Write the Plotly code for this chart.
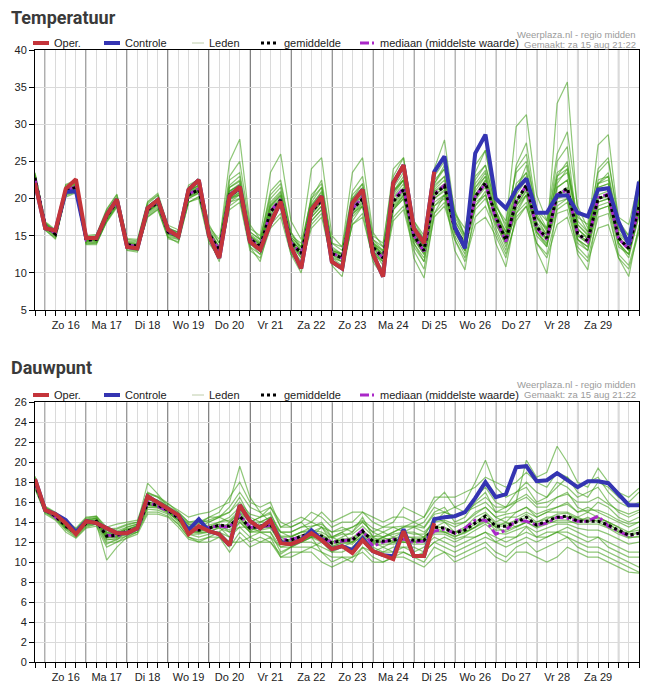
import pandas as pd
import plotly.graph_objects as go

# ---------------- data ----------------
start = "2020-08-15 18:00"
end = "2020-08-30 12:00"
times = pd.date_range(start, periods=60, freq="6h")

day_labels = ["Zo 16", "Ma 17", "Di 18", "Wo 19", "Do 20", "Vr 21", "Za 22",
              "Zo 23", "Ma 24", "Di 25", "Wo 26", "Do 27", "Vr 28", "Za 29"]
label_times = pd.date_range("2020-08-16 12:00", periods=14, freq="D")
midnights = pd.date_range("2020-08-16 00:00", periods=15, freq="D")

# Temperatuur
oper_temp = [22.1, 16.0, 15.7, 21.3, 22.6, 14.7, 14.7, 17.8, 19.9, 13.5,
             13.3, 18.7, 19.8, 15.8, 14.9, 21.2, 22.5, 15.0, 12.0, 20.3,
             21.6, 14.2, 13.1, 16.7, 19.6, 13.5, 10.6, 18.5, 20.3, 11.5,
             10.6, 19.4, 21.2, 12.6, 9.5, 22.1, 24.5, 16.0, 14.0, 23.6]
controle_temp = [22.1, 16.0, 15.7, 20.9, 21.0, 14.7, 14.7, 17.8, 19.9, 13.5,
                 13.3, 18.7, 19.8, 15.8, 14.9, 21.2, 22.5, 15.0, 12.0, 20.3,
                 21.6, 14.2, 13.1, 16.7, 19.6, 13.5, 10.6, 18.5, 20.3, 11.5,
                 10.6, 19.4, 21.2, 12.6, 9.5, 22.1, 24.5, 16.0, 14.0, 23.6,
                 25.7, 16.2, 13.3, 26.1, 28.6, 20.0, 18.7, 21.2, 22.7, 18.1,
                 18.1, 20.4, 20.4, 18.1, 17.6, 21.2, 21.4, 16.9, 13.8, 22.3]
gemiddelde_temp = [22.8, 16.3, 15.2, 21.0, 21.5, 14.4, 14.5, 17.6, 19.6, 13.8,
                   13.6, 18.5, 19.5, 15.5, 15.0, 20.5, 21.2, 15.3, 13.0, 20.5,
                   21.2, 14.6, 13.5, 18.2, 19.8, 14.2, 12.6, 18.2, 19.8, 12.6,
                   12.0, 18.5, 20.0, 13.5, 12.0, 19.6, 21.2, 15.0, 13.0, 20.5,
                   21.7, 16.0, 13.8, 20.3, 22.1, 17.6, 14.4, 19.6, 21.8, 16.2,
                   14.7, 20.5, 21.4, 15.3, 14.3, 20.0, 20.5, 14.7, 13.3, 18.9]
mediaan_temp = [22.7, 16.3, 15.3, 21.1, 21.6, 14.4, 14.5, 17.7, 19.6, 13.8,
                13.5, 18.5, 19.6, 15.5, 15.0, 20.6, 21.3, 15.3, 13.0, 20.6,
                21.3, 14.6, 13.4, 18.3, 19.9, 14.1, 12.6, 18.3, 20.0, 12.7,
                12.0, 18.6, 20.2, 13.4, 12.0, 19.8, 21.4, 15.0, 12.9, 20.6,
                21.8, 15.8, 13.6, 20.3, 22.0, 17.3, 14.2, 19.7, 21.8, 16.0,
                14.5, 20.5, 21.2, 15.2, 14.2, 20.1, 20.6, 14.6, 13.2, 18.8]
leden_temp_txt = [
    "23.2 | 16.8 15.6 21.8 22.3 | 14.9 14.8 18.3 20.2 | 14.2 14.0 19.3 20.4 | 16.1 15.4 21.5 22.0 | 16.0 14.0 25.0 28.0 | 16.5 14.5 21.0 22.5 | 15.5 13.0 20.5 22.0 | 13.5 12.5 20.0 21.5 | 14.5 13.0 21.5 23.5 | 17.0 14.5 23.0 25.0 | 18.5 15.0 23.5 26.5 | 19.5 16.0 24.0 26.0 | 18.0 15.5 23.0 24.0 | 16.5 15.0 22.5 23.0 | 16.0 14.5 21.0",
    "22.3 | 15.9 14.8 20.4 20.9 | 14.0 14.0 16.9 19.0 | 13.3 13.0 17.6 18.6 | 14.8 14.5 19.5 20.3 | 14.5 12.0 19.5 20.0 | 13.5 12.5 16.5 18.0 | 13.0 11.0 16.5 18.0 | 11.5 10.5 16.5 18.0 | 12.0 10.5 17.5 19.0 | 13.5 11.5 18.0 19.5 | 14.5 12.0 17.5 19.0 | 15.5 12.5 17.0 19.0 | 14.0 12.5 18.0 18.5 | 13.5 12.0 17.5 18.0 | 12.5 11.0 16.0",
    "22.9 | 16.5 15.4 21.3 21.8 | 14.6 14.4 17.9 19.9 | 13.9 13.5 18.9 19.9 | 15.8 15.2 21.0 21.8 | 15.5 13.5 21.0 22.0 | 15.0 14.0 19.0 20.5 | 14.5 13.0 19.0 21.0 | 13.0 12.5 19.5 21.0 | 14.0 12.5 20.5 22.5 | 16.0 14.0 22.0 24.0 | 17.5 15.0 22.5 24.5 | 19.0 16.5 29.7 31.3 | 20.5 17.0 26.0 29.0 | 19.0 16.0 22.0 23.5 | 16.5 14.0 19.5",
    "22.6 | 16.2 15.0 20.8 21.3 | 14.3 14.6 17.4 19.4 | 13.6 13.8 18.2 19.2 | 15.3 14.8 20.2 21.0 | 15.0 12.8 20.0 20.8 | 14.3 13.2 18.5 20.0 | 14.0 12.5 18.0 19.5 | 12.5 11.5 18.0 19.5 | 13.0 11.5 19.0 20.5 | 14.5 12.5 20.0 21.0 | 15.5 13.0 20.0 22.0 | 17.0 14.0 21.0 24.5 | 17.5 15.0 32.8 35.7 | 18.0 15.5 21.5 22.0 | 15.0 13.0 18.0",
    "23.4 | 16.6 15.5 21.5 22.0 | 14.7 14.9 18.0 20.0 | 14.3 14.2 19.0 20.0 | 15.9 15.5 21.0 21.8 | 15.8 13.5 21.5 22.5 | 15.0 14.0 19.5 21.0 | 14.8 13.5 19.5 21.5 | 13.0 12.5 20.0 22.0 | 14.0 13.0 21.0 23.0 | 15.5 13.5 24.0 27.9 | 18.0 15.0 24.5 26.5 | 18.5 15.0 21.0 23.0 | 16.5 15.0 22.0 24.0 | 17.0 15.5 27.2 28.6 | 17.0 15.0 21.0",
    "22.0 | 15.8 14.5 20.5 21.0 | 13.8 13.8 17.0 19.0 | 13.0 12.8 17.8 18.8 | 14.8 14.0 19.5 20.2 | 14.5 11.5 19.0 20.0 | 13.5 11.5 17.0 19.0 | 12.5 10.0 17.5 19.0 | 11.0 9.5 17.0 19.0 | 11.5 9.5 18.5 20.5 | 12.0 9.3 18.0 20.5 | 13.0 10.4 19.0 21.0 | 14.0 10.8 18.0 20.5 | 13.0 9.9 19.0 20.0 | 12.5 10.4 18.5 19.0 | 12.0 9.5 16.5",
    "22.8 | 16.3 15.3 21.2 21.6 | 14.5 14.3 17.5 19.5 | 13.7 13.5 18.6 19.6 | 15.6 15.1 20.6 21.4 | 15.2 13.2 20.8 21.5 | 14.8 13.8 18.5 20.0 | 14.0 12.5 18.5 20.0 | 12.8 12.2 18.8 20.5 | 13.8 12.3 20.0 21.5 | 15.5 13.5 21.0 22.0 | 16.5 14.0 20.5 22.5 | 17.5 14.5 19.5 21.5 | 16.0 14.5 20.5 21.0 | 15.0 14.0 20.5 21.0 | 14.5 13.5 19.5",
    "23.0 | 16.4 15.1 21.0 21.9 | 14.2 14.6 17.8 19.8 | 14.0 13.8 18.8 19.8 | 15.2 14.7 20.8 21.6 | 15.0 12.5 22.5 23.5 | 15.5 14.5 20.5 22.0 | 15.5 13.5 20.0 22.5 | 14.0 13.0 21.0 23.0 | 15.0 14.0 23.0 25.5 | 17.0 15.0 21.0 21.5 | 15.5 13.5 18.5 20.0 | 16.5 14.0 18.0 19.5 | 15.0 13.5 21.5 22.5 | 14.5 13.5 21.5 22.0 | 14.0 12.5 20.0",
    "22.5 | 16.0 15.0 20.7 21.1 | 14.6 14.2 17.2 19.3 | 13.5 13.3 18.0 19.0 | 15.3 15.0 20.0 20.7 | 15.5 13.0 19.5 20.5 | 14.0 12.5 17.5 19.0 | 14.0 12.0 17.0 18.5 | 12.0 11.0 18.0 19.0 | 13.0 11.0 18.5 20.0 | 14.0 12.0 19.0 20.0 | 15.0 12.5 20.5 22.5 | 18.0 15.5 22.0 23.5 | 17.5 16.0 23.0 25.0 | 16.0 14.5 24.0 25.5 | 16.5 15.0 22.0",
    "23.1 | 16.7 15.6 21.6 22.1 | 14.8 15.0 18.5 20.5 | 14.5 14.3 19.5 20.5 | 16.0 15.5 21.5 22.5 | 16.5 14.0 23.0 25.0 | 16.0 15.0 23.5 26.0 | 17.0 14.5 24.0 25.5 | 15.0 13.5 23.5 25.5 | 15.5 13.5 24.0 25.5 | 16.0 13.5 21.5 23.0 | 16.0 13.0 19.5 20.5 | 16.0 13.0 19.0 21.0 | 15.5 13.5 20.0 20.5 | 14.5 13.0 19.5 20.0 | 14.0 12.0 18.0",
    "22.4 | 16.1 15.2 20.9 21.4 | 14.1 14.1 17.1 19.1 | 13.4 13.2 18.3 19.3 | 15.0 14.6 20.0 20.8 | 14.8 12.5 20.0 20.5 | 14.2 13.0 17.5 19.0 | 13.5 11.5 17.0 18.5 | 12.0 11.5 17.5 19.0 | 12.5 11.5 18.5 20.0 | 14.0 11.5 19.0 20.5 | 16.0 13.0 21.5 23.5 | 18.0 14.5 19.0 20.5 | 15.5 14.0 18.5 19.5 | 14.0 13.0 18.5 19.0 | 13.5 12.5 17.5",
    "23.5 | 16.9 15.8 21.9 22.5 | 15.0 15.2 18.6 20.6 | 14.6 14.5 19.6 20.7 | 16.4 15.8 21.8 22.6 | 16.2 14.5 21.8 23.0 | 15.5 14.5 20.0 21.5 | 15.0 14.0 20.0 21.5 | 14.0 13.5 20.5 22.0 | 14.5 13.5 21.0 22.5 | 16.5 14.5 22.5 24.0 | 18.0 16.0 23.0 24.5 | 19.0 17.0 23.5 25.0 | 18.5 17.0 23.5 24.5 | 17.5 16.5 23.5 25.0 | 17.5 16.5 22.5",
    "22.2 | 15.7 14.7 20.2 20.8 | 13.9 14.0 16.8 18.8 | 13.1 13.0 17.5 18.5 | 14.6 14.2 19.5 20.0 | 14.0 12.0 18.5 19.5 | 13.0 12.0 16.0 17.5 | 12.5 11.0 16.0 17.5 | 11.5 10.5 16.5 17.5 | 12.0 10.0 17.0 18.5 | 13.0 10.5 17.5 19.0 | 14.5 11.5 16.5 17.5 | 15.0 12.0 17.5 19.0 | 14.0 12.0 16.5 17.5 | 13.0 11.5 16.0 16.5 | 12.0 10.5 15.5",
    "22.7 | 16.4 15.3 21.4 21.7 | 14.4 14.5 17.7 19.7 | 13.8 13.7 18.5 19.5 | 15.5 15.1 20.6 21.2 | 15.4 13.2 21.0 21.8 | 14.8 13.8 19.0 20.5 | 14.5 13.0 19.0 20.5 | 13.0 12.5 19.5 21.0 | 14.0 12.5 21.0 22.5 | 15.5 13.5 22.0 24.5 | 17.0 14.5 21.5 23.0 | 17.5 15.0 24.5 27.5 | 18.5 16.0 25.0 27.0 | 16.0 14.5 22.0 23.0 | 15.5 14.0 20.0",
    "22.6 | 16.2 15.1 20.8 21.3 | 14.3 14.4 17.4 19.4 | 13.7 13.5 18.3 19.3 | 15.3 14.8 20.3 21.0 | 15.1 12.8 20.2 21.0 | 14.4 13.3 17.8 19.5 | 14.0 12.3 17.8 19.5 | 12.4 11.8 18.2 19.7 | 13.3 11.8 19.2 20.8 | 14.8 12.8 20.0 21.2 | 15.8 13.5 19.8 21.5 | 17.2 14.0 19.0 21.2 | 16.0 14.3 20.0 20.8 | 15.0 14.0 19.5 20.0 | 14.5 13.0 18.5",
    "23.0 | 16.5 15.4 21.2 21.8 | 14.5 14.7 17.9 19.9 | 14.0 13.8 18.8 19.8 | 15.7 15.2 20.8 21.5 | 15.5 13.3 21.0 21.8 | 14.9 13.8 18.8 20.3 | 14.5 13.0 18.6 20.3 | 12.9 12.3 19.0 20.5 | 13.8 12.3 20.2 22.0 | 15.3 13.2 21.2 22.5 | 16.3 14.2 21.0 23.0 | 18.0 14.8 20.5 22.5 | 16.8 15.2 21.5 22.5 | 15.8 14.8 21.0 21.5 | 15.2 13.8 19.8",
    "22.9 | 16.3 15.2 21.0 21.5 | 14.6 14.4 17.6 19.6 | 13.9 13.6 18.5 19.4 | 15.4 15.0 20.5 21.3 | 15.3 13.0 20.5 21.3 | 14.5 13.5 18.0 19.6 | 14.2 12.6 18.0 19.6 | 12.6 12.0 18.4 20.0 | 13.5 12.0 19.5 21.0 | 15.0 13.0 20.5 21.5 | 16.0 13.8 20.0 21.8 | 17.5 14.5 19.5 21.5 | 16.2 14.6 20.5 21.2 | 15.2 14.2 20.0 20.3 | 14.7 13.2 18.7",
    "22.5 | 16.1 15.0 20.8 21.2 | 14.2 14.3 17.3 19.3 | 13.6 13.4 18.2 19.2 | 15.2 14.8 20.2 20.8 | 15.0 12.6 19.8 20.6 | 14.2 13.0 17.6 19.2 | 13.8 12.0 17.5 19.0 | 12.2 11.5 17.8 19.3 | 13.0 11.5 18.8 20.3 | 14.5 12.5 19.5 20.5 | 15.5 13.0 19.0 20.5 | 16.8 13.5 18.5 20.5 | 15.5 13.8 19.5 20.0 | 14.5 13.5 19.0 19.5 | 14.0 12.5 18.0",
    "23.2 | 16.6 15.5 21.4 22.0 | 14.7 14.8 18.0 20.0 | 14.1 13.9 19.0 20.0 | 15.8 15.3 21.0 21.8 | 15.6 13.5 21.5 22.3 | 15.2 14.2 19.2 20.8 | 14.8 13.4 19.2 20.8 | 13.2 12.6 19.5 21.0 | 14.2 12.8 20.8 22.5 | 15.8 13.8 21.8 23.0 | 17.0 14.8 22.0 23.8 | 18.5 15.5 21.5 23.5 | 17.5 15.8 22.5 23.5 | 16.5 15.2 22.0 22.5 | 15.8 14.5 20.5",
    "22.7 | 16.2 15.2 20.9 21.4 | 14.4 14.5 17.5 19.5 | 13.8 13.7 18.4 19.4 | 15.5 15.0 20.4 21.0 | 15.2 13.0 20.0 20.8 | 14.6 13.5 18.2 19.8 | 14.2 12.6 18.2 19.8 | 12.6 11.9 18.5 20.0 | 13.5 11.9 19.6 21.2 | 15.0 12.8 20.3 21.6 | 16.0 13.6 20.2 22.0 | 17.6 14.2 19.6 21.8 | 16.2 14.6 20.6 21.5 | 15.3 14.2 20.0 20.5 | 14.8 13.2 18.9",
]

# Dauwpunt
oper_dauw = [18.3, 15.2, 14.8, 13.9, 12.8, 14.1, 13.9, 13.4, 12.9, 12.9,
             13.4, 16.6, 16.0, 15.4, 14.7, 12.8, 13.6, 13.1, 12.8, 11.7,
             15.7, 14.1, 13.4, 14.2, 11.9, 11.8, 12.2, 12.9, 12.2, 11.3,
             11.6, 10.9, 12.2, 11.1, 10.7, 10.3, 13.1, 10.6, 10.6, 13.9]
controle_dauw = [18.3, 15.2, 14.8, 14.2, 13.0, 14.1, 13.9, 13.4, 12.9, 12.9,
                 13.4, 16.6, 16.0, 15.4, 14.7, 13.2, 14.3, 13.1, 12.8, 11.7,
                 15.7, 14.1, 13.4, 14.2, 12.0, 11.8, 12.2, 13.2, 12.2, 11.3,
                 11.6, 11.2, 12.4, 11.1, 10.7, 10.6, 13.3, 10.6, 10.6, 14.3,
                 14.5, 14.6, 15.0, 16.4, 18.0, 16.5, 16.8, 19.5, 19.6, 18.1,
                 18.2, 18.9, 18.2, 17.5, 18.1, 18.1, 17.9, 16.8, 15.7, 15.7]
gemiddelde_dauw = [17.8, 15.2, 14.6, 13.6, 12.9, 13.9, 14.1, 12.6, 12.7, 13.1,
                   13.4, 15.9, 15.7, 15.2, 14.4, 13.2, 13.2, 13.4, 13.7, 13.6,
                   14.6, 13.4, 13.6, 13.8, 12.1, 12.2, 12.6, 12.9, 12.6, 11.9,
                   12.2, 12.2, 13.1, 12.1, 12.1, 12.2, 12.4, 12.2, 12.2, 13.5,
                   13.4, 12.9, 13.2, 13.9, 14.6, 13.6, 13.6, 14.0, 14.5, 13.7,
                   14.1, 14.5, 14.6, 14.1, 14.1, 14.1, 13.7, 13.2, 12.7, 12.9]
mediaan_dauw = [17.9, 15.3, 14.5, 13.7, 12.9, 14.0, 14.0, 12.7, 12.6, 13.0,
                13.3, 16.0, 15.6, 15.1, 14.5, 13.1, 13.3, 13.5, 13.6, 13.5,
                14.7, 13.5, 13.5, 13.7, 12.2, 12.3, 12.5, 13.0, 12.4, 12.0,
                12.1, 12.3, 13.2, 11.6, 12.0, 12.3, 12.3, 12.0, 12.1, 13.1,
                13.3, 12.9, 13.4, 14.2, 14.2, 12.8, 13.2, 14.2, 14.1, 13.7,
                13.9, 14.5, 14.4, 14.1, 14.1, 14.6, 13.6, 13.1, 12.6, 12.9]
leden_dauw_txt = [
    "18.5 | 15.6 15.0 14.2 13.4 | 14.5 14.6 13.5 13.8 | 14.0 14.2 17.0 16.5 | 15.8 15.2 14.5 14.8 | 15.0 15.5 16.0 19.6 | 16.5 15.0 15.5 14.0 | 13.5 14.0 15.0 14.5 | 13.5 14.0 14.0 15.0 | 14.0 13.5 14.0 15.5 | 15.0 14.5 16.0 17.0 | 15.5 16.0 18.0 20.2 | 17.5 16.5 17.0 17.5 | 16.0 16.5 18.0 17.5 | 16.5 17.0 17.5 16.0 | 15.0 14.5 15.0",
    "17.3 | 14.9 14.3 13.2 12.5 | 13.5 13.8 10.2 11.5 | 12.5 13.0 15.0 15.0 | 14.6 13.8 12.5 12.0 | 12.5 12.5 11.5 13.0 | 12.0 12.5 12.0 10.5 | 11.0 11.0 11.5 11.0 | 10.5 10.5 10.0 11.5 | 10.5 10.0 10.5 11.0 | 10.5 10.0 11.5 11.0 | 10.5 11.0 11.5 12.0 | 11.0 10.5 11.5 12.0 | 11.0 11.5 12.0 12.5 | 11.5 11.0 11.0 10.5 | 10.0 9.5 9.0",
    "18.0 | 15.4 14.8 13.9 13.2 | 14.2 14.4 13.0 12.8 | 13.5 13.8 17.9 16.8 | 15.5 14.8 13.8 13.5 | 14.0 14.5 15.0 16.5 | 14.5 14.0 14.5 13.0 | 12.5 13.0 13.5 14.0 | 12.5 13.0 13.5 14.0 | 13.0 12.5 13.0 13.5 | 14.0 13.5 15.0 15.5 | 14.0 14.5 16.0 17.0 | 15.0 15.0 16.0 20.2 | 18.5 19.0 21.6 20.0 | 18.0 17.5 19.4 18.0 | 17.0 16.5 17.4",
    "17.6 | 15.0 14.4 13.4 12.8 | 13.8 14.0 12.2 12.4 | 12.8 13.0 15.5 15.5 | 15.0 14.2 12.8 12.8 | 13.0 13.5 12.5 13.5 | 12.5 13.0 13.0 11.0 | 11.5 12.0 12.0 11.5 | 11.0 11.5 11.0 12.0 | 11.0 11.0 11.0 11.5 | 11.0 11.5 12.5 12.0 | 11.5 12.0 12.5 13.0 | 12.0 12.5 12.5 13.0 | 12.5 13.0 13.0 13.5 | 13.0 12.5 12.5 12.0 | 11.5 11.0 11.0",
    "18.2 | 15.3 14.7 13.7 13.0 | 14.0 14.3 12.8 13.0 | 13.3 13.6 16.2 16.0 | 15.3 14.5 13.5 13.5 | 13.5 14.0 14.5 15.5 | 14.0 14.5 15.0 12.5 | 12.5 13.0 13.0 13.5 | 12.0 12.5 13.0 14.5 | 12.5 13.0 12.5 13.0 | 13.0 12.5 14.5 14.0 | 13.5 14.0 15.0 15.5 | 14.5 14.0 15.0 15.5 | 14.5 15.0 15.5 16.0 | 15.0 15.5 15.0 14.5 | 14.0 13.5 14.0",
    "17.7 | 15.1 14.5 13.5 12.7 | 13.7 13.9 12.0 12.0 | 12.7 13.2 15.7 15.5 | 15.0 14.0 12.8 12.5 | 12.8 13.0 12.5 14.0 | 13.0 13.0 12.5 11.5 | 11.5 12.0 12.5 11.0 | 10.0 10.5 10.5 11.5 | 11.0 11.5 11.0 11.0 | 10.5 11.0 12.0 12.5 | 12.0 12.5 12.5 13.0 | 12.5 12.0 12.5 13.5 | 12.5 12.5 13.0 13.0 | 12.5 12.0 12.5 11.5 | 11.0 10.5 10.5",
    "18.3 | 15.5 14.9 14.0 13.2 | 14.3 14.5 13.2 13.3 | 13.7 14.0 16.5 16.2 | 15.6 15.0 14.0 14.2 | 14.0 14.5 15.5 17.0 | 15.5 15.0 14.0 13.0 | 13.0 13.5 14.0 13.5 | 13.0 13.5 13.0 14.0 | 13.0 13.5 13.5 13.0 | 13.5 14.0 15.5 15.0 | 14.5 15.0 16.5 17.5 | 16.0 15.5 16.0 16.5 | 15.5 15.5 16.5 17.0 | 15.5 15.0 16.0 15.5 | 14.5 14.0 14.5",
    "17.4 | 14.8 14.2 13.0 12.4 | 13.4 13.6 11.5 12.0 | 12.4 12.8 14.8 14.8 | 14.5 13.5 12.3 12.0 | 12.0 12.5 11.0 12.5 | 11.5 12.0 12.5 10.5 | 10.5 11.0 11.0 10.0 | 9.5 10.0 10.5 11.0 | 10.0 10.0 10.5 10.5 | 10.0 9.5 10.5 11.0 | 10.0 10.5 11.0 11.5 | 10.5 10.0 11.0 11.0 | 10.5 10.0 10.5 11.5 | 11.0 10.5 10.5 10.0 | 9.5 9.0 8.9",
    "18.0 | 15.2 14.6 13.6 12.9 | 13.9 14.2 12.5 12.5 | 13.0 13.4 16.0 15.8 | 15.2 14.4 13.0 13.0 | 13.5 13.5 13.5 14.5 | 13.0 14.0 14.5 12.0 | 12.0 12.5 12.5 13.5 | 12.5 12.0 12.5 13.0 | 12.5 12.0 12.5 12.0 | 12.0 12.5 13.5 13.0 | 13.0 13.0 13.5 14.0 | 13.5 14.0 13.5 14.0 | 14.0 14.5 14.5 14.5 | 14.5 14.0 14.5 14.0 | 13.5 12.5 12.5",
    "18.1 | 15.3 14.7 13.8 13.1 | 14.1 14.4 12.3 12.2 | 13.2 13.7 16.8 16.5 | 15.4 14.7 13.6 13.8 | 14.5 14.5 14.0 15.0 | 14.0 14.5 15.5 13.5 | 13.5 14.0 13.0 12.5 | 12.5 13.0 12.0 13.0 | 12.0 12.5 13.0 13.5 | 13.5 13.0 14.0 15.0 | 15.5 15.0 15.5 16.0 | 15.0 15.5 17.0 18.0 | 17.0 16.5 17.5 18.5 | 17.0 16.5 18.0 17.5 | 16.5 16.0 17.0",
    "17.5 | 15.0 14.4 13.3 12.6 | 13.6 13.8 11.8 12.3 | 12.6 13.0 15.3 15.2 | 14.8 13.8 12.5 12.2 | 12.5 13.0 12.0 12.0 | 12.5 12.0 12.0 10.8 | 11.5 11.5 11.5 12.0 | 11.0 11.0 11.5 12.5 | 11.5 11.0 11.5 11.5 | 11.5 11.0 12.0 11.5 | 11.0 11.5 12.0 12.5 | 12.0 11.5 12.0 12.5 | 12.0 12.5 13.0 12.5 | 12.0 11.5 11.5 11.0 | 10.5 10.0 9.5",
    "18.6 | 15.5 14.9 14.1 13.3 | 14.4 14.6 13.3 13.4 | 13.8 14.0 16.9 16.6 | 15.9 15.0 14.0 14.0 | 14.5 15.0 16.5 18.0 | 16.0 15.5 16.0 13.5 | 14.0 14.5 14.0 15.0 | 14.0 14.5 15.0 15.0 | 14.5 14.0 14.5 14.5 | 14.0 14.5 16.5 16.5 | 16.5 17.0 17.5 18.5 | 18.0 17.5 18.0 19.0 | 18.0 17.5 19.0 18.5 | 17.5 18.0 18.5 17.0 | 16.0 15.5 16.0",
    "17.9 | 15.2 14.5 13.5 12.8 | 13.8 14.1 12.8 12.7 | 13.1 13.3 15.8 15.6 | 15.1 14.3 13.3 13.3 | 13.3 13.8 13.0 13.5 | 13.5 13.0 13.0 11.5 | 11.8 12.0 12.5 12.5 | 11.5 11.5 12.0 12.5 | 12.0 11.5 12.0 12.0 | 12.0 12.0 13.0 13.0 | 12.5 13.0 13.5 14.5 | 13.5 13.0 13.5 14.0 | 13.5 14.0 14.0 14.0 | 14.0 14.5 14.0 13.5 | 13.0 12.5 13.0",
    "17.8 | 15.1 14.6 13.6 13.0 | 14.0 14.0 12.6 12.8 | 13.0 13.5 16.0 15.8 | 15.2 14.5 13.2 13.0 | 13.0 13.0 14.0 15.0 | 13.5 13.5 13.5 12.5 | 12.0 12.0 12.5 12.0 | 11.5 12.0 12.0 13.0 | 12.0 12.5 12.0 12.5 | 12.5 12.5 13.5 14.0 | 13.0 13.5 14.5 15.0 | 14.0 14.5 14.5 15.0 | 14.5 15.0 15.0 15.0 | 14.5 15.0 14.5 14.0 | 13.0 13.0 13.5",
    "17.9 | 15.2 14.6 13.6 12.9 | 13.9 14.0 12.7 12.6 | 13.1 13.4 15.8 15.6 | 15.1 14.3 13.2 13.2 | 13.4 13.6 13.8 14.8 | 13.5 13.6 13.6 12.2 | 12.2 12.5 12.8 12.6 | 12.0 12.2 12.3 13.0 | 12.2 12.0 12.2 12.3 | 12.2 12.3 13.4 13.5 | 13.0 13.2 13.8 14.5 | 13.6 13.6 14.0 14.5 | 13.8 14.0 14.5 14.6 | 14.2 14.1 14.2 13.8 | 13.2 12.8 13.0",
    "18.1 | 15.3 14.7 13.8 13.0 | 14.0 14.2 12.9 12.9 | 13.3 13.6 16.3 16.0 | 15.3 14.6 13.5 13.6 | 13.7 14.0 14.2 15.2 | 14.0 14.0 14.0 12.6 | 12.6 13.0 13.2 13.0 | 12.4 12.8 12.8 13.6 | 12.6 12.5 12.8 13.0 | 12.8 12.8 14.0 14.2 | 13.8 14.0 14.8 15.5 | 14.5 14.8 15.0 15.5 | 14.8 15.2 15.5 15.8 | 15.0 15.2 15.2 14.8 | 14.2 13.8 14.0",
    "17.6 | 15.0 14.5 13.4 12.8 | 13.7 13.9 12.4 12.5 | 12.9 13.2 15.5 15.4 | 14.9 14.2 13.0 12.9 | 13.1 13.4 13.0 14.0 | 13.0 13.2 13.4 11.8 | 11.8 12.2 12.6 12.2 | 11.6 11.9 11.8 12.7 | 11.8 11.8 11.8 12.0 | 11.8 11.8 12.8 12.8 | 12.3 12.6 13.2 13.8 | 12.9 12.8 13.2 13.6 | 13.0 13.4 13.8 13.8 | 13.4 13.2 13.2 12.8 | 12.3 11.8 12.0",
    "18.0 | 15.3 14.7 13.7 12.9 | 13.9 14.1 12.6 12.8 | 13.1 13.4 16.0 15.8 | 15.2 14.4 13.3 13.3 | 13.5 13.8 13.5 14.4 | 13.3 13.7 14.0 12.0 | 12.3 12.7 13.0 12.8 | 12.0 12.3 12.4 13.2 | 12.3 12.3 12.4 12.6 | 12.4 12.2 13.6 13.4 | 12.8 13.4 14.0 14.8 | 13.8 13.8 14.2 14.8 | 14.0 14.3 14.8 14.9 | 14.3 14.3 14.4 14.0 | 13.5 13.0 13.2",
    "17.8 | 15.1 14.6 13.5 12.9 | 13.9 14.1 12.5 12.6 | 13.0 13.3 15.7 15.6 | 15.1 14.3 13.1 13.1 | 13.3 13.6 13.2 14.2 | 13.2 13.4 13.5 11.9 | 12.0 12.4 12.7 12.4 | 11.8 12.0 12.0 12.9 | 11.9 12.0 12.0 12.2 | 12.0 12.0 13.2 13.0 | 12.6 12.9 13.5 14.2 | 13.2 13.2 13.6 14.0 | 13.4 13.8 14.2 14.2 | 13.8 13.8 13.8 13.4 | 12.8 12.4 12.6",
    "18.4 | 15.4 14.8 13.9 13.1 | 14.2 14.4 13.0 13.1 | 13.5 13.8 16.5 16.2 | 15.5 14.8 13.8 13.9 | 14.2 14.6 15.0 16.0 | 14.8 14.5 14.8 13.0 | 13.0 13.5 13.6 13.8 | 13.0 13.2 13.5 14.2 | 13.4 13.0 13.5 13.6 | 13.6 13.4 14.8 15.0 | 14.6 15.0 15.8 16.5 | 15.5 15.5 16.2 16.8 | 15.8 16.0 16.5 16.8 | 16.0 16.0 16.5 15.8 | 15.2 14.8 15.2",
]


def parse(rows):
    out = []
    for r in rows:
        vals = [float(v) for v in r.replace("|", " ").split()]
        assert len(vals) == 60, len(vals)
        out.append(vals)
    return out


leden_temp = parse(leden_temp_txt)
leden_dauw = parse(leden_dauw_txt)

# ---------------- styling ----------------
OFF = 8                      # page body margin
W, H = 635, 679
ML, MR, MT, MB = 27, 4, 42, 25
PW = W - ML - MR
PH = H - MT - MB
C_OPER = "rgb(196,52,58)"
C_CTRL = "rgb(52,52,178)"
C_LEDEN = "rgba(62,158,22,0.58)"
C_MEAN = "black"
C_MED = "rgb(170,40,200)"
GRID = "#dadada"
FONT = "Liberation Sans, Arial, sans-serif"


def px_x(p):
    return (p - OFF - ML) / PW


def px_y(p):
    return (H - MB - (p - OFF)) / PH


fig = go.Figure()

panels = [
    ("x", "y", leden_temp, mediaan_temp, gemiddelde_temp, controle_temp, oper_temp),
    ("x2", "y2", leden_dauw, mediaan_dauw, gemiddelde_dauw, controle_dauw, oper_dauw),
]
for xa, ya, leden, med, gem, ctrl, oper in panels:
    for m in leden:
        fig.add_trace(go.Scatter(x=times, y=m, xaxis=xa, yaxis=ya, mode="lines",
                                 line=dict(color=C_LEDEN, width=1.2), showlegend=False,
                                 hoverinfo="skip"))
    fig.add_trace(go.Scatter(x=times, y=med, xaxis=xa, yaxis=ya, mode="lines",
                             line=dict(color=C_MED, width=3, dash="dashdot"), showlegend=False))
    fig.add_trace(go.Scatter(x=times, y=gem, xaxis=xa, yaxis=ya, mode="lines",
                             line=dict(color=C_MEAN, width=3, dash="dot"), showlegend=False))
    fig.add_trace(go.Scatter(x=times, y=ctrl, xaxis=xa, yaxis=ya, mode="lines",
                             line=dict(color=C_CTRL, width=4), showlegend=False))
    fig.add_trace(go.Scatter(x=times[:len(oper)], y=oper, xaxis=xa, yaxis=ya, mode="lines",
                             line=dict(color=C_OPER, width=4), showlegend=False))

xcommon = dict(
    type="date", range=[start, end],
    tickvals=label_times, ticktext=day_labels,
    ticks="outside", ticklen=5, tickcolor="black",
    showgrid=True, gridcolor=GRID, gridwidth=1,
    minor=dict(dtick=6 * 3600 * 1000, tick0=start, ticks="outside", ticklen=5,
               tickcolor="black", showgrid=True, gridcolor=GRID, gridwidth=1),
    showline=True, linecolor="black", linewidth=1, mirror=True, zeroline=False,
    tickfont=dict(family=FONT, size=11, color="#222"),
)
ycommon = dict(
    ticks="outside", ticklen=5, tickcolor="black",
    showgrid=True, gridcolor=GRID, gridwidth=1,
    showline=True, linecolor="black", linewidth=1, mirror=True, zeroline=False,
    tickfont=dict(family=FONT, size=11, color="#222"),
)
top_dom = [px_y(310), 1.0]
bot_dom = [0.0, px_y(402.3)]
fig.update_layout(
    xaxis=dict(xcommon, anchor="y", domain=[0, 1]),
    yaxis=dict(ycommon, anchor="x", domain=top_dom, range=[5, 40], dtick=5),
    xaxis2=dict(xcommon, anchor="y2", domain=[0, 1]),
    yaxis2=dict(ycommon, anchor="x2", domain=bot_dom, range=[0, 26], dtick=2),
)

shapes = []
for xref, yref in [("x", "y"), ("x2", "y2")]:
    for t in midnights:
        shapes.append(dict(type="line", xref=xref, yref=yref + " domain", x0=t, x1=t,
                           y0=0, y1=1, line=dict(color="#262626", width=1.2), layer="below"))

annotations = []
panel_info = [("Temperatuur", 18, 43, 34), ("Dauwpunt", 368, 395, 384)]
legend_items = [
    (33, 49, C_OPER, 4, "solid", 52, "Oper."),
    (104, 120, C_CTRL, 4, "solid", 123, "Controle"),
    (192, 204, "rgb(190,205,170)", 1, "solid", 207, "Leden"),
    (261, 276, "black", 3, "dot", 282, "gemiddelde"),
    (360, 374, C_MED, 3, "dashdot", 378, "mediaan (middelste waarde)"),
]
for title, ty, ly, wy in panel_info:
    annotations.append(dict(text="<b>" + title + "</b>", xref="paper", yref="paper",
                            x=px_x(9), y=px_y(ty), xanchor="left", yanchor="middle",
                            showarrow=False,
                            font=dict(family="Roboto, sans-serif", size=18, color="#3a3a3a")))
    for x0, x1, col, wd, dash, tx, txt in legend_items:
        shapes.append(dict(type="line", xref="paper", yref="paper",
                           x0=px_x(x0), x1=px_x(x1), y0=px_y(ly), y1=px_y(ly),
                           line=dict(color=col, width=wd, dash=dash)))
        annotations.append(dict(text=txt, xref="paper", yref="paper", x=px_x(tx),
                                y=px_y(ly), xanchor="left", yanchor="middle",
                                showarrow=False,
                                font=dict(family=FONT, size=11, color="#222")))
    annotations.append(dict(text="Weerplaza.nl - regio midden", xref="paper", yref="paper",
                            x=px_x(638), y=px_y(wy), xanchor="right", yanchor="middle",
                            showarrow=False, font=dict(family=FONT, size=9.5, color="#9a9a9a")))
    annotations.append(dict(text="Gemaakt: za 15 aug 21:22", xref="paper", yref="paper",
                            x=px_x(638), y=px_y(wy + 10.5), xanchor="right", yanchor="middle",
                            showarrow=False, font=dict(family=FONT, size=9.5, color="#9a9a9a")))

fig.update_layout(
    width=W, height=H,
    margin=dict(l=ML, r=MR, t=MT, b=MB),
    paper_bgcolor="white", plot_bgcolor="white",
    showlegend=False,
    shapes=shapes, annotations=annotations,
    font=dict(family=FONT, size=11, color="#222"),
)

fig.write_html("out.html")
